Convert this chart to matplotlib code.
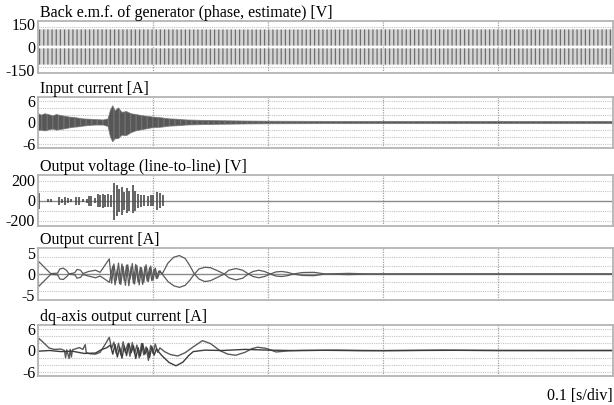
import matplotlib
matplotlib.use("Agg")
import matplotlib.pyplot as plt
import numpy as np

plt.rcParams.update(
    {
        "font.family": ["Liberation Serif", "DejaVu Serif"],
        "hatch.linewidth": 0.9,
    }
)

# ---- panel titles / axis texts -------------------------------------------
titles = [
    "Back e.m.f. of generator (phase, estimate) [V]",
    "Input current [A]",
    "Output voltage (line-to-line) [V]",
    "Output current [A]",
    "dq-axis output current [A]",
]
ytick_values = [[-150, 0, 150], [-6, 0, 6], [-200, 0, 200], [-5, 0, 5], [-6, 0, 6]]
ytick_labels = [["-150", "0", "150"], ["-6", "0", "6"], ["-200", "0", "200"], ["-5", "0", "5"], ["-6", "0", "6"]]
time_div = [0.0, 0.1, 0.2, 0.3, 0.4, 0.5]
scale_label = "0.1 [s/div]"

# ---- back e.m.f. envelope (dense sinusoid) --------------------------------
emf_t = [0.0, 0.1, 0.2, 0.3, 0.4, 0.5]
emf_upper = [115, 115, 114, 115, 115, 115]
emf_lower = [-115, -115, -114, -115, -115, -115]

# ---- input current envelope (dense switching ripple) ---------------------
iin_t = [0.0, 0.003, 0.006, 0.01, 0.013, 0.016, 0.02, 0.024, 0.027, 0.031, 0.035,
         0.039, 0.045, 0.05, 0.057, 0.061, 0.063, 0.065, 0.067, 0.07, 0.073, 0.077,
         0.081, 0.085, 0.09, 0.095, 0.1, 0.107, 0.114, 0.121, 0.129, 0.14, 0.157,
         0.18, 0.2, 0.25, 0.3, 0.35, 0.4, 0.45, 0.5]
iin_upper = [2.5, 2.0, 2.4, 2.1, 1.8, 2.2, 1.9, 1.7, 1.5, 1.4, 1.2,
             1.0, 0.9, 0.8, 0.7, 1.0, 3.4, 4.6, 3.2, 4.0, 2.8, 3.0,
             2.4, 2.2, 1.9, 1.7, 1.5, 1.3, 1.0, 0.9, 0.7, 0.6, 0.5,
             0.4, 0.35, 0.3, 0.3, 0.3, 0.3, 0.3, 0.3]
iin_lower = [-2.2, -2.1, -2.3, -2.0, -1.8, -2.1, -1.9, -1.7, -1.5, -1.3, -1.2,
             -1.0, -0.8, -0.7, -0.7, -1.1, -4.0, -5.3, -4.5, -4.4, -3.5, -3.6,
             -2.8, -2.3, -2.0, -1.7, -1.4, -1.3, -1.0, -0.9, -0.7, -0.6, -0.5,
             -0.4, -0.35, -0.3, -0.3, -0.3, -0.3, -0.3, -0.3]

# ---- output voltage pulse bursts -----------------------------------------
vout_t = [0.0006, 0.0084, 0.0113, 0.0186, 0.0209, 0.0238, 0.0258, 0.0287, 0.033,
          0.0354, 0.0388, 0.0423, 0.0446, 0.0461, 0.0499, 0.0519, 0.0539, 0.0562,
          0.0585, 0.0606, 0.0635, 0.0664, 0.0684, 0.0707, 0.073, 0.0751, 0.0771,
          0.0794, 0.0823, 0.0846, 0.0867, 0.0896, 0.0925, 0.0954, 0.0983, 0.1003,
          0.1032, 0.1061, 0.1084]
vout_upper = [77, 17, 17, 33, 20, 40, 25, 15, 40,
              40, 15, 20, 50, 50, 25, 65, 60, 65,
              55, 65, 60, 177, 160, 115, 140, 90, 125,
              100, 160, 100, 70, 60, 55, 50, 55, 55,
              90, 75, 55]
vout_lower = [-80, -17, -17, -40, -20, -40, -25, -15, -40,
              -40, -15, -20, -50, -50, -25, -65, -60, -70,
              -60, -65, -60, -190, -157, -115, -140, -90, -125,
              -100, -123, -100, -70, -60, -55, -50, -55, -55,
              -90, -75, -55]

# ---- output current (two phases) -----------------------------------------
ia_t = [0.0, 0.0005, 0.011, 0.017, 0.019, 0.022, 0.025, 0.027, 0.032, 0.034, 0.037,
        0.039, 0.044, 0.05, 0.054, 0.058, 0.062,
        0.064, 0.066, 0.068, 0.07, 0.072, 0.074, 0.076, 0.078, 0.08, 0.082, 0.084,
        0.086, 0.088, 0.09, 0.092, 0.094, 0.096, 0.098, 0.1, 0.102, 0.104, 0.106,
        0.108, 0.113, 0.118, 0.123, 0.128, 0.132, 0.136, 0.14, 0.145, 0.15, 0.156,
        0.162, 0.166, 0.172, 0.178, 0.183, 0.187, 0.192, 0.197, 0.202, 0.207, 0.212,
        0.217, 0.222, 0.23, 0.24, 0.25, 0.27, 0.29, 0.5]
ia_val = [0.0, 3.0, 0.1, 0.2, 1.2, 1.4, 0.8, 0.0, 0.3, 1.1, 0.9,
          0.1, 0.6, 0.9, 0.4, 2.0, 3.6,
          -2.2, 2.4, -1.5, 2.6, -2.5, 1.8, -2.7, 2.2, -1.2, 2.5, -2.4,
          2.0, -2.6, 1.5, -2.0, 2.2, -1.8, 1.9, -1.5, 1.4, -1.0, 0.8,
          0.0, 2.6, 4.0, 4.4, 3.7, 2.0, 0.0, -1.2, -1.8, -1.6, -0.8,
          0.0, 0.9, 1.3, 0.9, 0.0, -0.6, -0.9, -0.6, 0.0, 0.5, 0.6,
          0.4, 0.0, -0.35, -0.4, 0.0, 0.15, 0.0, 0.0]
ib_t = [0.0, 0.0005, 0.011, 0.017, 0.019, 0.022, 0.025, 0.027, 0.032, 0.034, 0.037,
        0.039, 0.044, 0.05, 0.054, 0.058, 0.062,
        0.065, 0.067, 0.069, 0.071, 0.073, 0.075, 0.077, 0.079, 0.081, 0.083, 0.085,
        0.087, 0.089, 0.091, 0.093, 0.095, 0.097, 0.099, 0.101, 0.103, 0.105,
        0.108, 0.113, 0.118, 0.123, 0.128, 0.132, 0.136, 0.14, 0.145, 0.15, 0.156,
        0.162, 0.166, 0.172, 0.178, 0.183, 0.187, 0.192, 0.197, 0.202, 0.207, 0.212,
        0.217, 0.222, 0.23, 0.24, 0.25, 0.27, 0.29, 0.5]
ib_val = [0.0, -3.0, -0.1, -0.2, -1.2, -1.3, -0.6, 0.0, -0.2, -1.0, -0.8,
          -0.1, -0.5, -0.9, -0.5, -1.2, -2.0,
          1.9, -2.6, 1.2, -2.3, 2.4, -1.6, 2.1, -2.8, 1.7, -2.2, 2.3,
          -1.9, 1.6, -2.5, 1.8, -1.7, 1.5, -1.6, 1.2, -1.1, 0.7,
          0.0, -1.8, -2.8, -3.2, -2.7, -1.5, 0.0, 1.2, 1.6, 1.5, 0.8,
          0.0, -0.9, -1.4, -1.0, 0.0, 0.6, 0.9, 0.6, 0.0, -0.5, -0.6,
          -0.4, 0.0, 0.35, 0.4, 0.0, -0.15, 0.0, 0.0]

# ---- dq-axis output current ----------------------------------------------
id_t = [0.0, 0.0005, 0.004, 0.0096, 0.014, 0.02, 0.023, 0.024, 0.025, 0.027, 0.028,
        0.029, 0.03, 0.033, 0.036, 0.039, 0.041, 0.042, 0.045, 0.05, 0.054, 0.058,
        0.062,
        0.064, 0.066, 0.068, 0.07, 0.072, 0.074, 0.076, 0.078, 0.08, 0.082, 0.084,
        0.086, 0.088, 0.09, 0.092, 0.094, 0.096, 0.098, 0.1, 0.102, 0.104,
        0.106, 0.110, 0.115, 0.1215, 0.128, 0.135, 0.143, 0.15, 0.158, 0.165, 0.172,
        0.18, 0.186, 0.191, 0.198, 0.207, 0.218, 0.23, 0.26, 0.3, 0.35, 0.4, 0.45, 0.5]
id_val = [0.0, 3.4, 2.4, 0.7, 0.3, 0.4, 0.0, -2.0, 0.2, -2.2, 0.3,
          -1.8, 0.2, 0.5, 0.8, 0.3, 1.6, -0.6, -0.9, -1.0, -0.5, 1.5,
          3.6,
          0.5, 2.3, -0.8, 2.0, -1.2, 2.4, -0.5, 1.8, -1.6, 2.2, -0.9,
          1.5, -2.0, 1.9, -1.2, 1.0, -2.7, 1.4, -0.8, 1.8, -0.5,
          0.7, -0.3, -1.1, -1.5, -0.6, 1.0, 2.7, 1.9, 0.0, -1.0, -1.3,
          -0.5, 0.5, 0.9, 0.6, -0.4, -0.1, 0.0, 0.1, -0.05, 0.1, 0.0, 0.05, 0.0]
iq_t = [0.0, 0.01, 0.02, 0.03, 0.035, 0.04, 0.05, 0.055, 0.06, 0.063,
        0.065, 0.067, 0.069, 0.071, 0.073, 0.075, 0.077, 0.079, 0.081, 0.083, 0.085,
        0.087, 0.089, 0.091, 0.093, 0.095, 0.097, 0.099, 0.101, 0.103, 0.105,
        0.108, 0.114, 0.120, 0.126, 0.131, 0.135, 0.145, 0.16, 0.18, 0.2, 0.22,
        0.25, 0.28, 0.32, 0.36, 0.4, 0.45, 0.5]
iq_val = [-0.2, 0.0, -0.3, -0.2, -0.5, -0.8, -0.7, 0.2, 0.8, 1.5,
          -1.0, 1.6, -1.8, 0.9, -2.1, 1.2, -1.4, 2.0, -0.6, 1.3, -2.2,
          0.8, -1.5, 1.9, -1.0, 0.6, -1.9, 1.1, -1.3, 0.5, -0.4,
          -1.5, -3.3, -4.2, -3.2, -1.4, -0.3, 0.1, 0.0, 0.3, 0.1, 0.0,
          0.05, -0.05, 0.0, 0.05, 0.0, -0.05, 0.0]

W, H = 614, 405
boxes = [(21, 73), (97, 148), (175, 226), (248, 300), (325, 376)]
ylims = [170, 7.0, 255, 6.2, 7.0]
hgrids = [[-130, 130], [-6, -4, -2, 2, 4, 6], [-200, -100, 100, 200], [-4, -2, 2, 4], [-6, -4, -2, 2, 4, 6]]
zero_line = [False, False, True, True, False]

frame_color = "#b4b4b4"
grid_color = "#c4c4c4"
trace_dark = "#3c3c3c"
trace_mid = "#5a5a5a"

fig = plt.figure(figsize=(W / 100, H / 100), dpi=100)
axes = []
for i, (top, bottom) in enumerate(boxes):
    ax = fig.add_axes([38 / W, 1 - bottom / H, 575 / W, (bottom - top) / H])
    ax.set_xlim(0, 0.5)
    ax.set_ylim(-ylims[i], ylims[i])
    ax.set_xticks([])
    ax.set_yticks(ytick_values[i])
    ax.set_yticklabels(ytick_labels[i])
    ax.tick_params(axis="y", length=0, pad=2, labelsize=11.5)
    for spine in ax.spines.values():
        spine.set_color(frame_color)
        spine.set_linewidth(1.3)
    for y in hgrids[i]:
        ax.axhline(y, color=grid_color, linestyle=(0, (1, 1)), linewidth=0.8, zorder=0)
    for x in time_div[1:-1]:
        ax.axvline(x, color="#a0a0a0", linestyle=(0, (1, 1)), linewidth=0.9, zorder=0)
    if zero_line[i]:
        ax.axhline(0, color="#8a8a8a", linewidth=1.0, zorder=1)
    ax.text(0.0035, 1 + 4 / (bottom - top), titles[i], transform=ax.transAxes,
            ha="left", va="baseline", fontsize=11.5)
    axes.append(ax)

# back e.m.f.: dense sinusoid drawn as a striped band
ax = axes[0]
gap = 0.08 * np.array(emf_upper)
ax.fill_between(emf_t, gap, emf_upper, facecolor="#d4d4d4", edgecolor="#6e6e6e",
                hatch="||||", linewidth=0, zorder=2)
ax.fill_between(emf_t, emf_lower, -gap, facecolor="#d4d4d4", edgecolor="#6e6e6e",
                hatch="||||", linewidth=0, zorder=2)

# input current: ripple band
ax = axes[1]
ax.fill_between(iin_t, iin_lower, iin_upper, facecolor="#3a3a3a", edgecolor="#777777",
                alpha=0.85, hatch="|||", linewidth=0.6, zorder=2)

# output voltage: PWM bursts
ax = axes[2]
ax.vlines(vout_t, vout_lower, vout_upper, color="#4a4a4a", linewidth=1.2, zorder=2)

# output current
ax = axes[3]
ax.plot(ia_t, ia_val, color=trace_mid, linewidth=0.9, zorder=2)
ax.plot(ib_t, ib_val, color=trace_mid, linewidth=0.9, zorder=2)

# dq-axis current
ax = axes[4]
ax.plot(id_t, id_val, color=trace_mid, linewidth=1.0, zorder=2)
ax.plot(iq_t, iq_val, color=trace_dark, linewidth=1.0, zorder=2)

fig.text(613 / W, 1 - 400 / H, scale_label, ha="right", va="baseline", fontsize=11.5)

fig.savefig("out.png", dpi=100, facecolor="white")
